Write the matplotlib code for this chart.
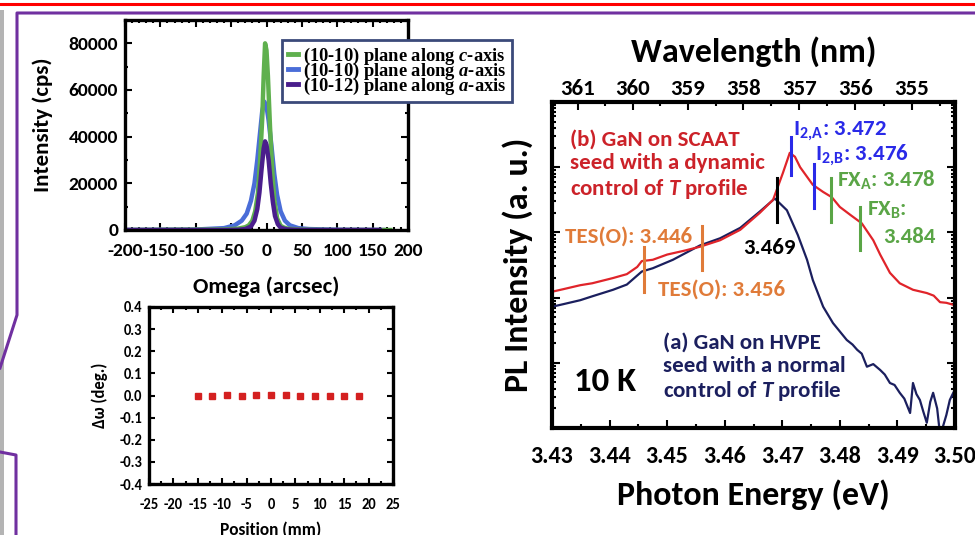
import numpy as np
import matplotlib
matplotlib.use("Agg")
import matplotlib.pyplot as plt
from matplotlib.lines import Line2D
from matplotlib.patches import Rectangle
from matplotlib.ticker import MultipleLocator, FixedLocator, NullFormatter, FormatStrFormatter

plt.rcParams["font.family"] = ["Carlito", "DejaVu Sans"]
plt.rcParams["font.weight"] = "bold"
plt.rcParams["axes.labelweight"] = "bold"
plt.rcParams["axes.unicode_minus"] = False
plt.rcParams["mathtext.fontset"] = "custom"
plt.rcParams["mathtext.it"] = "Carlito:italic:bold"
plt.rcParams["mathtext.rm"] = "Carlito:bold"
plt.rcParams["mathtext.bf"] = "Carlito:bold"
plt.rcParams["mathtext.cal"] = "Liberation Serif:italic:bold"

# ---- rocking curves (omega scans) ----
om_green = [-200, -60, -40, -30, -25, -20, -16, -12, -9, -6, -4, -2, 0, 2, 5, 8, 11, 15, 20, 25, 30, 40, 60, 100, 175]
int_green = [0, 200, 600, 1200, 2000, 4000, 8000, 16000, 30000, 48000, 66000, 80000, 77000, 66000,
             44000, 26000, 13000, 5000, 1800, 1000, 600, 300, 100, 0, 0]
om_blue = [-200, -100, -60, -45, -35, -28, -22, -17, -13, -9, -6, -3, 0, 3, 7, 11, 15, 20, 26, 33, 45, 60, 100, 165]
int_blue = [0, 200, 800, 2000, 4000, 7000, 12500, 20000, 30000, 42000, 51000, 55000, 53000, 47000,
            36000, 24000, 15000, 8000, 4000, 2000, 800, 400, 100, 0]
om_purple = [-200, -60, -40, -30, -22, -17, -13, -10, -7, -4, -2, 0, 3, 6, 9, 12, 16, 20, 28, 40, 60, 160]
int_purple = [0, 0, 100, 400, 1500, 4000, 9000, 16000, 26000, 35000, 38000, 36500, 30000, 20000,
              12000, 6000, 2500, 1000, 300, 100, 0, 0]
legend_labels = [r"(10-10) plane along $\mathcal{c}$-axis",
                 r"(10-10) plane along $\mathcal{a}$-axis",
                 r"(10-12) plane along $\mathcal{a}$-axis"]

# ---- delta omega vs position ----
position = [-15, -12, -9, -6, -3, 0, 3, 6, 9, 12, 15, 18]
delta_omega = [0.0, -0.003, 0.002, 0.0, 0.002, 0.002, 0.001, -0.002, 0.0, 0.0, 0.0, 0.0]

# ---- PL spectra, log10 of intensity (a.u.) ----
e_scaat = [3.430, 3.432, 3.4349, 3.437, 3.4406, 3.443, 3.4448, 3.4456, 3.4475, 3.4500, 3.4530, 3.4557,
           3.4592, 3.4627, 3.4661, 3.4684, 3.4701, 3.4713, 3.4722, 3.4731, 3.4753, 3.4771, 3.4786,
           3.4800, 3.4818, 3.4838, 3.4858, 3.4870, 3.4887, 3.4904, 3.4927, 3.4951, 3.4963, 3.4974,
           3.4985, 3.4997]
log_scaat = [2.09, 2.13, 2.19, 2.22, 2.30, 2.36, 2.47, 2.56, 2.58, 2.66, 2.72, 2.78,
             2.88, 3.04, 3.30, 3.50, 3.91, 4.22, 4.16, 4.00, 3.73, 3.62, 3.54,
             3.39, 3.27, 3.14, 2.88, 2.66, 2.38, 2.22, 2.12, 2.07, 2.03, 1.93,
             1.92, 1.89]
e_hvpe = [3.430, 3.432, 3.4349, 3.437, 3.4406, 3.443, 3.4456, 3.4475, 3.4510, 3.4557, 3.4592, 3.4627,
          3.4661, 3.4687, 3.4708, 3.4727, 3.4743, 3.4753, 3.4771, 3.4788, 3.4800, 3.4812, 3.4822,
          3.4830, 3.4838, 3.4847, 3.4858, 3.4870, 3.4878, 3.4887, 3.4895, 3.4904, 3.4912, 3.4922,
          3.4927, 3.4933, 3.4939, 3.4945, 3.4951, 3.4957, 3.4962, 3.4969, 3.4974, 3.4979, 3.4985,
          3.4991, 3.4997]
log_hvpe = [1.86, 1.90, 1.96, 2.02, 2.12, 2.20, 2.40, 2.45, 2.58, 2.80, 2.91, 3.07,
            3.32, 3.52, 3.34, 2.96, 2.58, 2.27, 1.86, 1.61, 1.48, 1.35, 1.28,
            1.20, 1.14, 0.94, 0.98, 0.89, 0.82, 0.69, 0.66, 0.54, 0.45, 0.23,
            0.69, 0.52, 0.43, 0.25, 0.08, 0.40, 0.54, 0.30, -0.10, 0.02, 0.20,
            0.43, 0.54]

# ---- peak markers: energy, log10 bottom, log10 top, colour ----
mark_e = [3.446, 3.456, 3.469, 3.4715, 3.4755, 3.4785, 3.4835]
mark_lo = [2.09, 2.42, 3.16, 3.88, 3.37, 3.16, 2.73]
mark_hi = [2.78, 3.10, 3.83, 4.46, 4.05, 3.83, 3.39]
mark_col = ["#e07b39", "#e07b39", "black", "#2a2ae8", "#2a2ae8", "#5aa546", "#5aa546"]

W, H = 975, 535
fig = plt.figure(figsize=(W / 100, H / 100), dpi=100)


def px_rect(l, t, r, b):
    return [l / W, 1 - b / H, (r - l) / W, (b - t) / H]


def fig_line(xs, ys, **kw):
    fig.add_artist(Line2D([x / W for x in xs], [1 - y / H for y in ys],
                          transform=fig.transFigure, **kw))


# slide decorations
fig.add_artist(Rectangle((0, 0), 4 / W, 1 - 10 / H, transform=fig.transFigure,
                         color="#b4b4b4", lw=0))
fig_line([0, W], [3.5, 3.5], color="#ff0000", lw=2.2)
fig_line([W, 17, 17, 0], [13, 13, 315, 368], color="#7030a0", lw=2.2)
fig_line([0, 16, 16], [452, 455, H], color="#7030a0", lw=2.2)


def style_box(ax, lw):
    for s in ax.spines.values():
        s.set_linewidth(lw)
    ax.tick_params(which="both", direction="in", top=True, right=True, width=1.5)
    ax.tick_params(which="major", length=5)
    ax.tick_params(which="minor", length=2.5)


# ---------- rocking curves ----------
ax1 = fig.add_axes(px_rect(125, 20, 408, 230))
lb, = ax1.plot(om_blue, int_blue, color="#4a6dd8", lw=3.2)
lg, = ax1.plot(om_green, int_green, color="#5fb04e", lw=3.2)
lp, = ax1.plot(om_purple, int_purple, color="#4a1e8c", lw=3.2)
ax1.set_xlim(-200, 200)
ax1.set_ylim(0, 90000)
ax1.xaxis.set_major_locator(MultipleLocator(50))
ax1.xaxis.set_minor_locator(MultipleLocator(10))
ax1.yaxis.set_major_locator(FixedLocator([0, 20000, 40000, 60000, 80000]))
ax1.yaxis.set_minor_locator(MultipleLocator(10000))
style_box(ax1, 2.4)
ax1.tick_params(labelsize=14)
ax1.tick_params(axis="x", pad=9)
ax1.tick_params(axis="y", pad=5)
ax1.set_xlabel("Omega (arcsec)", fontsize=16.5, labelpad=13)
ax1.set_ylabel("Intensity (cps)", fontsize=16.5, labelpad=11)
leg = ax1.legend([lg, lb, lp], legend_labels, loc="upper left",
                 bbox_to_anchor=(282 / W, 1 - 40 / H), bbox_transform=fig.transFigure,
                 prop=dict(family="Liberation Serif", weight="bold", size=13.3),
                 handlelength=0.55, handletextpad=0.3, labelspacing=-0.33, borderpad=0.3,
                 borderaxespad=0, fancybox=False, framealpha=1, edgecolor="#3b4a7a")
leg.get_frame().set_linewidth(2)
for h in leg.legend_handles:
    h.set_linewidth(3.5)

# ---------- delta omega ----------
ax2 = fig.add_axes(px_rect(149, 307, 393, 484))
ax2.plot(position, delta_omega, ls="none", marker="s", ms=4, color="#d42020")
ax2.set_xlim(-25, 25)
ax2.set_ylim(-0.4, 0.4)
ax2.xaxis.set_major_locator(MultipleLocator(5))
ax2.xaxis.set_minor_locator(MultipleLocator(2.5))
ax2.yaxis.set_major_locator(MultipleLocator(0.1))
ax2.yaxis.set_major_formatter(FormatStrFormatter("%.1f"))
style_box(ax2, 2.4)
ax2.tick_params(which="major", length=4)
ax2.tick_params(labelsize=10.5)
ax2.tick_params(axis="x", pad=10)
ax2.tick_params(axis="y", pad=5)
ax2.set_xlabel("Position (mm)", fontsize=12.5, labelpad=7)
ax2.set_ylabel("Δω (deg.)", fontsize=12, labelpad=8)

# ---------- PL spectra ----------
ax3 = fig.add_axes(px_rect(552, 102, 955, 428))
ax3.plot(e_hvpe, 10 ** np.array(log_hvpe), color="#1b1f5e", lw=1.6)
ax3.plot(e_scaat, 10 ** np.array(log_scaat), color="#e0242a", lw=1.6)
for e, lo, hi, c in zip(mark_e, mark_lo, mark_hi, mark_col):
    ax3.plot([e, e], [10 ** lo, 10 ** hi], color=c, lw=2.2)
ax3.set_xlim(3.43, 3.50)
ax3.set_yscale("log")
ax3.set_ylim(1, 1e5)
ax3.yaxis.set_major_formatter(NullFormatter())
ax3.yaxis.set_minor_formatter(NullFormatter())
ax3.xaxis.set_major_locator(MultipleLocator(0.01))
ax3.xaxis.set_minor_locator(MultipleLocator(0.005))
ax3.xaxis.set_major_formatter(FormatStrFormatter("%.2f"))
for s in ax3.spines.values():
    s.set_linewidth(3)
ax3.tick_params(which="both", direction="in", top=False, right=True, width=1.5)
ax3.tick_params(which="major", length=6)
ax3.tick_params(which="minor", length=3)
ax3.tick_params(axis="x", labelsize=17.3, pad=13)
ax3.set_xlabel("Photon Energy (eV)", fontsize=24.5, labelpad=9)
ax3.set_ylabel("PL Intensity (a. u.)", fontsize=24.5, labelpad=10)

sec = ax3.secondary_xaxis("top", functions=(lambda x: 1239.84 / x, lambda x: 1239.84 / x))
sec.set_xticks([361, 360, 359, 358, 357, 356, 355])
sec.xaxis.set_minor_locator(FixedLocator(np.arange(354.5, 362, 0.5)))
sec.tick_params(which="both", direction="in", width=1.5, labelsize=16.5, pad=2.5)
sec.tick_params(which="major", length=6)
sec.tick_params(which="minor", length=3)
sec.set_xlabel("Wavelength (nm)", fontsize=24.5, labelpad=12)

ax3.text(3.4331, 10 ** 4.03, "(b) GaN on SCAAT\nseed with a dynamic\ncontrol of $\\mathit{T}$ profile",
         color="#cc2229", fontsize=16.5, ha="left", va="center", linespacing=1.2)
ax3.text(3.4719, 10 ** 4.57, r"$\mathregular{I_{2,\!A}}$: 3.472", color="#2a2ae8", fontsize=16.5, va="center")
ax3.text(3.4757, 10 ** 4.19, r"$\mathregular{I_{2,\!B}}$: 3.476", color="#2a2ae8", fontsize=16.5, va="center")
ax3.text(3.4795, 10 ** 3.80, r"$\mathregular{FX_{A}}$: 3.478", color="#5aa546", fontsize=16.5, va="center")
ax3.text(3.4847, 10 ** 3.34, r"$\mathregular{FX_{B}}$:", color="#5aa546", fontsize=16.5, va="center")
ax3.text(3.4875, 10 ** 2.93, "3.484", color="#5aa546", fontsize=16.5, va="center")
ax3.text(3.4323, 10 ** 2.93, "TES(O): 3.446", color="#e07b39", fontsize=16.5, va="center")
ax3.text(3.4632, 10 ** 2.76, "3.469", color="black", fontsize=16.5, va="center")
ax3.text(3.4484, 10 ** 2.12, "TES(O): 3.456", color="#e07b39", fontsize=16.5, va="center")
ax3.text(3.4493, 10 ** 0.92, "(a) GaN on HVPE\nseed with a normal\ncontrol of $\\mathit{T}$ profile",
         color="#1b1f5e", fontsize=16.5, ha="left", va="center", linespacing=1.2)
ax3.text(3.4338, 10 ** 0.71, "10 K", color="black", fontsize=25, va="center")

# bold tick labels everywhere
for a in (ax1, ax2, ax3):
    for lbl in a.get_xticklabels() + a.get_yticklabels():
        lbl.set_fontweight("bold")
for lbl in sec.get_xticklabels():
    lbl.set_fontweight("bold")

fig.savefig("out.png", dpi=100)
